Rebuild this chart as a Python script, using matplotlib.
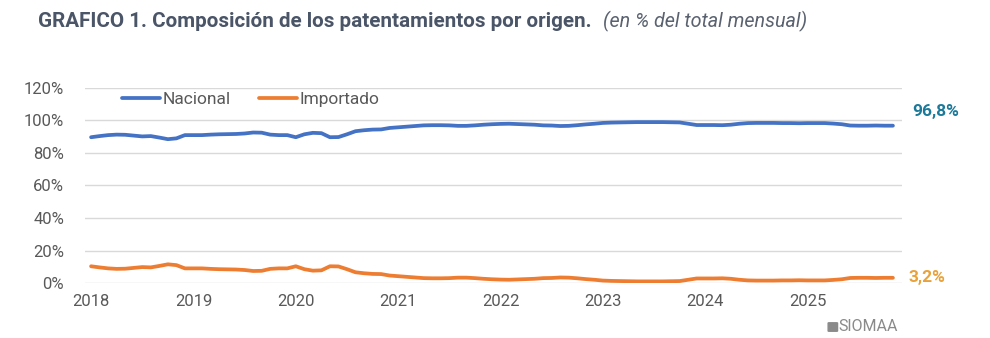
import numpy as np
import matplotlib
matplotlib.use("Agg")
import matplotlib.pyplot as plt
from matplotlib.patches import FancyBboxPatch

plt.rcParams['font.family'] = ['Roboto', 'DejaVu Sans']

# monthly shares, Jan 2018 - Nov 2025 (% of monthly total)
start_year = 2018
importado = [
    10.3, 9.6, 9.0, 8.7, 8.8, 9.3, 9.8, 9.6, 10.5, 11.5, 11.0, 9.0,   # 2018
    9.0, 9.0, 8.7, 8.5, 8.4, 8.3, 8.0, 7.4, 7.5, 8.7, 9.0, 9.0,       # 2019
    10.3, 8.5, 7.6, 7.8, 10.3, 10.2, 8.5, 6.6, 6.0, 5.6, 5.5, 4.6,    # 2020
    4.2, 3.8, 3.4, 3.0, 2.9, 2.9, 3.0, 3.3, 3.3, 3.0, 2.6, 2.3,       # 2021
    2.1, 2.0, 2.2, 2.4, 2.6, 3.0, 3.1, 3.4, 3.3, 2.9, 2.4, 2.0,       # 2022
    1.5, 1.3, 1.2, 1.1, 1.0, 1.0, 1.0, 1.0, 1.1, 1.2, 2.0, 2.8,       # 2023
    2.8, 2.8, 2.9, 2.6, 2.0, 1.6, 1.5, 1.5, 1.5, 1.6, 1.6, 1.7,       # 2024
    1.6, 1.6, 1.6, 1.9, 2.3, 3.1, 3.2, 3.2, 3.1, 3.2, 3.2,            # 2025
]
nacional = [
    89.7, 90.4, 91.0, 91.3, 91.2, 90.7, 90.2, 90.4, 89.5, 88.5, 89.0, 91.0,
    91.0, 91.0, 91.3, 91.5, 91.6, 91.7, 92.0, 92.6, 92.5, 91.3, 91.0, 91.0,
    89.7, 91.5, 92.4, 92.2, 89.7, 89.8, 91.5, 93.4, 94.0, 94.4, 94.5, 95.4,
    95.8, 96.2, 96.6, 97.0, 97.1, 97.1, 97.0, 96.7, 96.7, 97.0, 97.4, 97.7,
    97.9, 98.0, 97.8, 97.6, 97.4, 97.0, 96.9, 96.6, 96.7, 97.1, 97.6, 98.0,
    98.5, 98.7, 98.8, 98.9, 99.0, 99.0, 99.0, 99.0, 98.9, 98.8, 98.0, 97.2,
    97.2, 97.2, 97.1, 97.4, 98.0, 98.4, 98.5, 98.5, 98.5, 98.4, 98.4, 98.3,
    98.4, 98.4, 98.4, 98.1, 97.7, 96.9, 96.8, 96.8, 96.9, 96.8, 96.8,
]
year_ticks = [2018, 2019, 2020, 2021, 2022, 2023, 2024, 2025]
y_ticks = [0, 20, 40, 60, 80, 100, 120]
last_nac = "96,8%"
last_imp = "3,2%"

t = start_year + np.arange(len(importado)) / 12.0

blue = '#4472C4'
orange = '#ED7D31'

fig = plt.figure(figsize=(9.9, 3.38), dpi=100)
ax = fig.add_axes([0.0859, 0.1627, 0.825, 0.577])

ax.plot(t, nacional, color=blue, lw=2.7, solid_capstyle='round', label='Nacional')
ax.plot(t, importado, color=orange, lw=2.7, solid_capstyle='round', label='Importado')

ax.set_ylim(0, 120)
ax.set_xlim(2017.941, 2025.92)
ax.set_yticks(y_ticks)
ax.set_yticklabels([f"{v}%" for v in y_ticks])
ax.set_xticks(year_ticks)
ax.set_xticklabels([str(y) for y in year_ticks])
ax.tick_params(length=0, labelsize=12, labelcolor='#595959')
ax.tick_params(axis='y', pad=15)
ax.tick_params(axis='x', pad=8)
ax.grid(axis='y', color='#d9d9d9', lw=1)
ax.set_axisbelow(True)
for s in ax.spines.values():
    s.set_visible(False)

ax.legend(loc='upper left', bbox_to_anchor=(0.026, 1.062), ncol=2, frameon=False,
          fontsize=12.5, handlelength=2.2, handletextpad=0.15, columnspacing=1.6,
          labelcolor='#595959')

ax.annotate(last_nac, xy=(t[-1], nacional[-1]), xytext=(14, 10.5), textcoords='offset points',
            color='#1B7A9A', fontsize=12.5, fontweight='bold', va='center', annotation_clip=False)
ax.annotate(last_imp, xy=(t[-1], importado[-1]), xytext=(11, 0), textcoords='offset points',
            color='#E9A23B', fontsize=12.5, fontweight='bold', va='center', annotation_clip=False)

fig.text(0.038, 0.935, "GRAFICO 1. Composición de los patentamientos por origen.",
         fontsize=14.9, fontweight='bold', color='#4A5568', va='center')
fig.text(0.609, 0.935, "(en % del total mensual)", fontsize=14.2, style='italic',
         color='#5A6270', va='center')

# SIOMAA mark
fig.patches.append(FancyBboxPatch((0.8375, 0.021), 0.0075, 0.023,
                                  boxstyle='round,pad=0.001', transform=fig.transFigure,
                                  color='#8a8a8a'))
fig.text(0.8465, 0.033, "SIOMAA", fontsize=11.5, color='#8a8a8a', va='center')

fig.savefig('out.png', dpi=100)
